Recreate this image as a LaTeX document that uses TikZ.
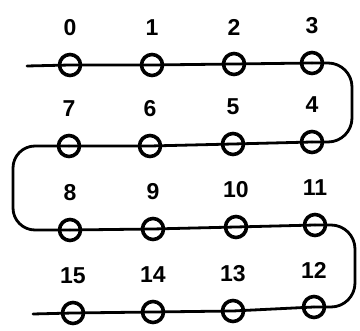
\documentclass[tikz,border=0pt]{standalone}
\usepackage{fontspec}
\setmainfont{Liberation Sans}
\usetikzlibrary{positioning}

\begin{document}
\begin{tikzpicture}[
    x=1pt, y=-1pt,
    ring/.style={draw, circle, line width=3.6pt, minimum size=21pt, inner sep=0pt},
    wire/.style={line width=2.8pt, line join=round, line cap=round},
    lbl/.style={font=\fontsize{23}{25}\selectfont\bfseries, inner sep=0pt}
  ]
    \useasboundingbox (0,0) rectangle (360,331);

    % --- stations, row by row ---
    \foreach \n/\x/\y in {0/70/65, 1/152/65, 2/234/64, 3/312/63,
                          7/69/146, 6/150/146, 5/233/144, 4/312/142,
                          8/70/230, 9/153/229, 10/236/227, 11/315/225,
                          15/73/313, 14/153/312, 13/233/311, 12/314/307} {
      \node[ring] (c\n) at (\x,\y) {};
      \node[lbl] (l\n) at ([yshift=37pt]c\n) {\n};
    }

    % --- free ends of the strand ---
    \coordinate (start) at (27,66);
    \coordinate (finish) at (33,314);

    % --- the strand ---
    \draw[wire] (start) -- (c0.center) -- (c1.center) -- (c2.center) -- (c3.center);
    \draw[wire, rounded corners=24pt] (c3.center) -- ++(40,0) |- (c4.center);
    \draw[wire] (c4.center) -- (c5.center) -- (c6.center) -- (c7.center);
    \draw[wire, rounded corners=22pt] (c7.center) -- ++(-56,0) |- (c8.center);
    \draw[wire] (c8.center) -- (c9.center) -- (c10.center) -- (c11.center);
    \draw[wire, rounded corners=24pt] (c11.center) -- ++(40,0) |- (c12.center);
    \draw[wire] (c12.center) -- (c13.center) -- (c14.center) -- (c15.center) -- (finish);
\end{tikzpicture}
\end{document}
